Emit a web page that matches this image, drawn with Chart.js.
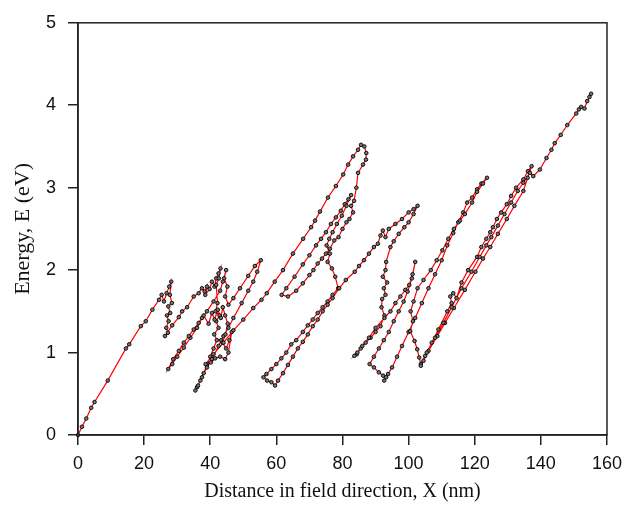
<!DOCTYPE html>
<html>
<head>
<meta charset="utf-8">
<script src="https://cdn.jsdelivr.net/npm/chart.js@4"></script>
<style>
  html, body { margin: 0; padding: 0; background: #fff; }
</style>
</head>
<body>
<canvas id="energyChart" width="630" height="525"></canvas>
<script>
// Axis ticks
const xTickValues = [0, 20, 40, 60, 80, 100, 120, 140, 160];
const yTickValues = [0, 1, 2, 3, 4, 5];

// Electron trajectory, split in pieces in the order it is travelled
// (distance X in nm, energy E in eV)
const part1X = [0, 1.2, 2.5, 4, 5, 9, 14.5, 15.5, 19, 20.5, 22.5, 24.5, 25.3, 26, 26.8, 27.6, 28.2, 27.8, 28.4, 27.3, 27.9, 26.9, 27.4, 26.7, 27.2, 26.3];
const part1E = [0, 0.1, 0.2, 0.33, 0.4, 0.66, 1.05, 1.1, 1.32, 1.38, 1.52, 1.64, 1.7, 1.62, 1.72, 1.8, 1.86, 1.7, 1.6, 1.56, 1.48, 1.45, 1.38, 1.3, 1.24, 1.2];

const part2X = [28.5, 30.5, 31.5, 33, 35, 36.5, 37.5, 38.3, 39, 38.5, 39.8, 40.5, 41.3, 41.8, 42.5, 43.1, 42.6, 41.8, 42.2, 41.6, 42.8, 41.8, 42.5, 41.2, 42, 41, 40, 39, 38, 37, 36, 35.5];
const part2E = [1.33, 1.43, 1.5, 1.55, 1.68, 1.72, 1.78, 1.74, 1.8, 1.7, 1.77, 1.86, 1.8, 1.9, 1.96, 2.02, 1.9, 1.82, 1.6, 1.5, 1.45, 1.38, 1.3, 1.22, 1.15, 1.05, 0.95, 0.85, 0.75, 0.66, 0.58, 0.54];

const part3X = [36.3, 37.5, 39, 40.5, 42.5, 43.3, 44, 45.5, 47, 49.5, 51.5, 53, 54.2, 55.3, 53.5, 51.5, 49, 47, 45.5, 44.5, 45.2, 44.2, 44.8, 43.8, 43, 41, 39, 37.5, 36, 34, 32, 30, 28.5, 27.3];
const part3E = [0.6, 0.7, 0.82, 0.92, 1.08, 1.15, 1.2, 1.3, 1.42, 1.6, 1.75, 1.86, 1.98, 2.12, 2.05, 1.93, 1.78, 1.66, 1.58, 1.68, 1.8, 1.9, 2.0, 1.86, 1.75, 1.62, 1.5, 1.42, 1.3, 1.18, 1.06, 0.95, 0.86, 0.8];

const part4X = [28.8, 30.5, 32, 33.5, 35, 36.5, 38, 39.5, 40.5, 41.3, 42.3, 43.2, 43.8, 44.5, 45.3, 44.6, 43.7, 44.8, 45.8, 46.5, 45.5, 44.5, 43, 41.5, 40.2, 38.6, 41, 44, 47, 50, 53, 55.5];
const part4E = [0.92, 1.02, 1.12, 1.2, 1.28, 1.36, 1.45, 1.35, 1.48, 1.4, 1.52, 1.42, 1.55, 1.45, 1.35, 1.22, 1.12, 1.05, 1.15, 1.25, 1.0, 0.92, 0.95, 0.93, 0.88, 0.86, 0.98, 1.12, 1.27, 1.4, 1.54, 1.64];

const part5X = [57.1, 59.5, 62, 65, 68.1, 70.5, 71.7, 73.2, 75.6, 78, 80.2, 81.7, 83.2, 84.7, 85.6, 86.6, 87.2, 87.1, 86.2, 84.7, 84.2, 83.5, 82.6, 83.2, 82.1, 81.2, 80, 78.8, 77.5, 76.2, 75, 73.8, 72.5, 71.2, 70, 68, 66, 63.5, 61.6];
const part5E = [1.72, 1.86, 2.0, 2.2, 2.38, 2.52, 2.6, 2.71, 2.88, 3.02, 3.16, 3.28, 3.38, 3.46, 3.52, 3.5, 3.42, 3.34, 3.28, 3.18, 3.0, 2.84, 2.78, 2.7, 2.62, 2.58, 2.5, 2.4, 2.36, 2.26, 2.2, 2.14, 2.08, 2.0, 1.94, 1.84, 1.75, 1.68, 1.7];

const part6X = [63, 65.5, 68, 70, 72, 73.5, 75, 76.5, 78, 79.5, 80.7, 81.8, 82.6, 81.2, 79.8, 78.3, 77, 76, 75.2, 76.2, 75.5, 76.8, 77.8, 78.7, 77, 75.5, 74, 72.5, 71, 69.5, 68, 66, 64.5, 63, 61.5, 60, 58.5, 57, 56.1, 57.2, 58.5, 59.6, 60.5, 62, 63.5, 65, 66.5, 68, 69.5, 71, 72.5, 74, 75.5, 77, 79, 81, 83.7];
const part6E = [1.78, 1.92, 2.07, 2.18, 2.3, 2.38, 2.46, 2.56, 2.64, 2.72, 2.8, 2.86, 2.91, 2.78, 2.66, 2.56, 2.46, 2.38, 2.3, 2.2, 2.1, 2.02, 1.92, 1.78, 1.7, 1.62, 1.55, 1.48, 1.4, 1.33, 1.25, 1.15, 1.1, 1.0, 0.93, 0.86, 0.8, 0.74, 0.7, 0.66, 0.64, 0.6, 0.66, 0.75, 0.85, 0.95, 1.05, 1.13, 1.22, 1.32, 1.4, 1.5, 1.58, 1.66, 1.78, 1.88, 1.98];

const part7X = [85, 86.5, 88, 89.5, 90.7, 91.5, 92.2, 93, 94, 96, 98, 100, 101.5, 102.7, 101.5, 100, 98.7, 97, 95.5, 94.5, 93.2, 93, 92.2, 93.5, 92.5, 93, 92, 91.8, 92.7, 91.5, 90, 88.5, 87, 85.5, 84.3, 83.6, 84.5, 86, 88, 90, 92.7, 94.5, 96, 97.5, 99, 100.2, 101.2, 102];
const part7E = [2.05, 2.12, 2.2, 2.28, 2.32, 2.42, 2.48, 2.4, 2.5, 2.56, 2.62, 2.7, 2.74, 2.78, 2.68, 2.58, 2.52, 2.44, 2.35, 2.28, 2.1, 2.0, 1.92, 1.85, 1.78, 1.7, 1.65, 1.55, 1.45, 1.32, 1.25, 1.18, 1.12, 1.05, 0.98, 0.96, 1.0, 1.08, 1.18, 1.3, 1.42, 1.5, 1.6, 1.68, 1.76, 1.82, 1.95, 2.1];

const part8X = [101, 99.7, 98.5, 97, 95.5, 94, 92.5, 91, 89.5, 88.2, 89.5, 91, 92.3, 93.2, 92.6, 93.8, 95, 96.5, 98, 100, 102, 104, 106, 108, 110, 111.7, 113.5, 115, 116.5, 117.7, 119.2, 120.7, 122, 123.7, 122.5, 120.7, 119.2, 117, 115.5, 113.7, 112, 110.2, 108.5, 106.7, 104.5, 102.7, 101.5];
const part8E = [1.9, 1.74, 1.62, 1.5, 1.38, 1.25, 1.15, 1.05, 0.95, 0.86, 0.82, 0.76, 0.72, 0.7, 0.66, 0.74, 0.82, 0.95, 1.08, 1.25, 1.42, 1.6, 1.78, 1.95, 2.12, 2.3, 2.45, 2.58, 2.7, 2.82, 2.88, 2.98, 3.05, 3.12, 3.05, 2.95, 2.82, 2.68, 2.6, 2.5, 2.38, 2.24, 2.12, 2.0, 1.88, 1.78, 1.62];

const part9X = [100.6, 101.3, 100.5, 101.8, 102.6, 103.2, 103.7, 105, 107, 109, 111.7, 113, 112.6, 113.5, 114.5, 116, 118, 120.7, 122, 123.5, 124.7, 125.5, 126.7, 128, 129.7, 131, 132.5, 134.7, 136.1, 137.2, 136, 134.7, 132, 129.7, 127, 124.7, 122.5, 120.2, 117, 113.7, 111, 108.7, 106, 104.5, 103.7];
const part9E = [1.5, 1.38, 1.26, 1.14, 1.04, 0.94, 0.86, 0.96, 1.12, 1.28, 1.5, 1.6, 1.68, 1.72, 1.66, 1.85, 2.0, 2.16, 2.28, 2.38, 2.46, 2.52, 2.62, 2.7, 2.8, 2.9, 3.0, 3.1, 3.2, 3.26, 3.12, 2.96, 2.78, 2.62, 2.44, 2.28, 2.14, 1.98, 1.76, 1.54, 1.36, 1.2, 1.02, 0.9, 0.84];

const part10X = [105.5, 108, 110.5, 113, 116, 119, 121.5, 123.5, 125, 127, 129, 131, 133, 134.7, 136.7, 137.7, 139.7, 141.7, 143.2, 144.2, 146, 148, 150.7, 151.5, 152.2, 153.2, 154, 154.7, 155.2];
const part10E = [1.0, 1.18, 1.36, 1.55, 1.78, 1.98, 2.16, 2.3, 2.4, 2.54, 2.68, 2.82, 2.96, 3.06, 3.18, 3.14, 3.22, 3.36, 3.46, 3.54, 3.64, 3.76, 3.9, 3.95, 3.98, 3.96, 4.05, 4.1, 4.14];

const distX = [].concat(part1X, part2X, part3X, part4X, part5X, part6X, part7X, part8X, part9X, part10X);
const energyE = [].concat(part1E, part2E, part3E, part4E, part5E, part6E, part7E, part8E, part9E, part10E);
const points = distX.map((x, i) => ({ x: x, y: energyE[i] }));

// box round the plot area (top and right sides too)
const frameBox = {
  id: "frameBox",
  afterDatasetsDraw(chart) {
    const { ctx, chartArea: a } = chart;
    ctx.save();
    ctx.strokeStyle = "#222";
    ctx.lineWidth = 1.5;
    ctx.strokeRect(a.left, a.top, a.right - a.left, a.bottom - a.top);
    ctx.restore();
  }
};

const tickFont = { family: "Liberation Sans", size: 18 };

new Chart(document.getElementById("energyChart"), {
  type: "scatter",
  data: {
    datasets: [{
      data: points,
      showLine: true,
      borderColor: "#ff0000",
      borderWidth: 1.2,
      pointRadius: 1.8,
      pointBorderWidth: 0.9,
      pointBorderColor: "#000",
      pointBackgroundColor: "#777",
      clip: 6
    }]
  },
  options: {
    responsive: false,
    animation: false,
    layout: { padding: { top: 18, right: 19, left: 0, bottom: 0 } },
    plugins: {
      legend: { display: false },
      tooltip: { enabled: false }
    },
    scales: {
      x: {
        type: "linear",
        min: 0,
        max: 160,
        afterBuildTicks: s => { s.ticks = xTickValues.map(v => ({ value: v })); },
        afterFit: s => { s.height = 90; },
        grid: { drawOnChartArea: false, drawTicks: true, tickLength: 10, color: "#222", lineWidth: 1.5 },
        border: { color: "#222", width: 1.5 },
        ticks: { color: "#111", font: tickFont, padding: 8, maxRotation: 0 },
        title: {
          display: true,
          text: "Distance in field direction, X (nm)",
          color: "#111",
          font: { family: "Liberation Serif", size: 20 },
          padding: { top: 0, bottom: 21 }
        }
      },
      y: {
        min: 0,
        max: 5,
        afterBuildTicks: s => { s.ticks = yTickValues.map(v => ({ value: v })); },
        afterFit: s => { s.width = 78; },
        grid: { drawOnChartArea: false, drawTicks: true, tickLength: 10, color: "#222", lineWidth: 1.5 },
        border: { color: "#222", width: 1.5 },
        ticks: { color: "#111", font: tickFont, padding: 12 },
        title: {
          display: true,
          text: "Energy, E (eV)",
          color: "#111",
          font: { family: "Liberation Serif", size: 22 },
          padding: { top: 10, bottom: 0 }
        }
      }
    }
  },
  plugins: [frameBox]
});
</script>
</body>
</html>
